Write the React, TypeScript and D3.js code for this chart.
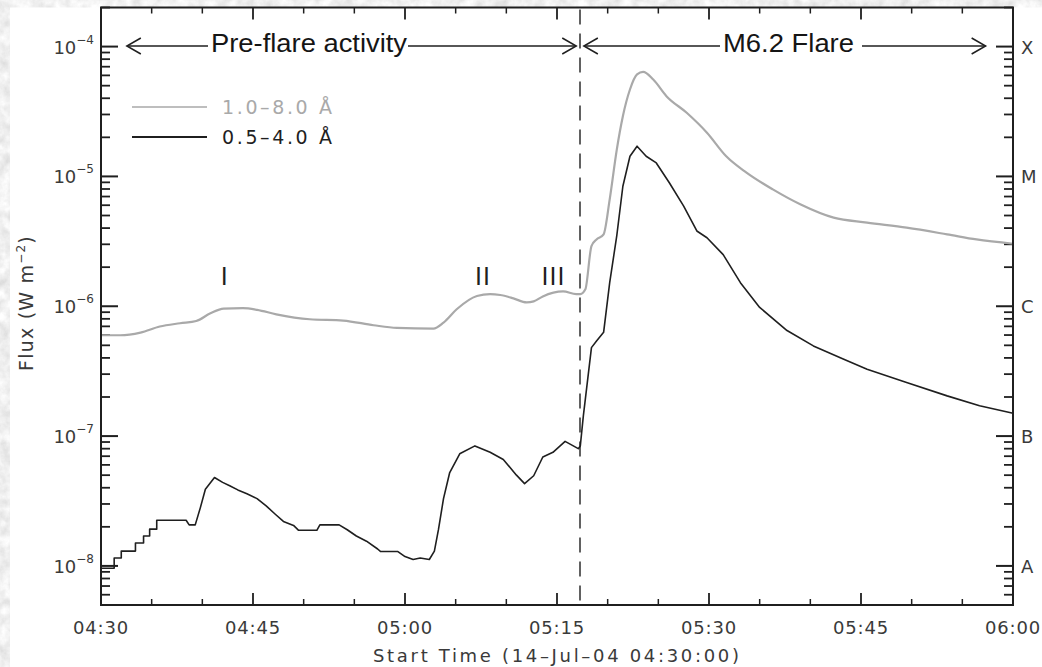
import React from "react";
import * as d3 from "d3";

// minutes after 04:30:00 UT
const softTimes = [0, 1.9, 3.9, 5.8, 7.8, 9.4, 10.8, 12.1, 14.0, 15.4, 17.3, 20.6, 23.9, 26.9, 29.2, 32.8, 33.8, 35.1, 37.1, 38.4, 39.4, 40.7, 42.0, 42.7, 43.6, 45.6, 46.9, 47.3, 47.8, 48.4, 48.9, 49.6, 50.2, 50.9, 51.5, 52.2, 52.9, 53.5, 54.5, 55.8, 57.8, 59.8, 61.7, 63.7, 66.3, 69.0, 72.3, 75.6, 79.5, 83.5, 86.4, 90];
const softFlux = [5.98e-7, 5.98e-7, 6.27e-7, 6.98e-7, 7.4e-7, 7.7e-7, 8.83e-7, 9.6e-7, 9.66e-7, 9.38e-7, 8.67e-7, 7.94e-7, 7.76e-7, 7.14e-7, 6.81e-7, 6.73e-7, 7.48e-7, 9.48e-7, 1.2e-6, 1.24e-6, 1.22e-6, 1.15e-6, 1.07e-6, 1.09e-6, 1.19e-6, 1.3e-6, 1.24e-6, 1.24e-6, 1.35e-6, 2.91e-6, 3.27e-6, 3.58e-6, 6.65e-6, 1.61e-5, 2.91e-5, 4.67e-5, 6.1e-5, 6.38e-5, 5.57e-5, 4.15e-5, 3.09e-5, 2.17e-5, 1.43e-5, 1.07e-5, 7.94e-6, 6.1e-6, 4.81e-6, 4.41e-6, 4.03e-6, 3.58e-6, 3.27e-6, 3.03e-6];

const hardTimes = [0, 1.3, 1.3, 2.0, 2.0, 3.4, 3.4, 4.2, 4.2, 4.8, 4.8, 5.5, 5.5, 8.4, 8.7, 9.3, 9.8, 10.3, 11.2, 12.0, 12.7, 13.5, 14.4, 15.4, 16.3, 17.2, 18.0, 19.0, 19.5, 21.3, 21.6, 23.5, 24.3, 25.2, 26.2, 27.3, 27.6, 29.3, 30.0, 30.8, 31.5, 32.4, 32.9, 33.3, 33.8, 34.4, 35.4, 36.9, 38.4, 39.7, 41.0, 41.8, 42.7, 43.6, 44.6, 45.8, 47.1, 47.3, 47.6, 48.4, 48.9, 49.6, 50.2, 50.9, 51.5, 52.2, 52.9, 53.8, 54.8, 56.1, 57.5, 58.8, 59.8, 61.4, 63.1, 65.0, 67.7, 70.3, 73.3, 75.6, 79.5, 83.5, 86.7, 90];
const hardFlux = [9.6e-9, 9.6e-9, 1.15e-8, 1.15e-8, 1.3e-8, 1.3e-8, 1.5e-8, 1.5e-8, 1.7e-8, 1.7e-8, 1.92e-8, 1.92e-8, 2.25e-8, 2.25e-8, 2.07e-8, 2.07e-8, 2.8e-8, 3.9e-8, 4.8e-8, 4.4e-8, 4.15e-8, 3.85e-8, 3.6e-8, 3.3e-8, 2.9e-8, 2.5e-8, 2.2e-8, 2.05e-8, 1.88e-8, 1.88e-8, 2.07e-8, 2.07e-8, 1.9e-8, 1.7e-8, 1.55e-8, 1.35e-8, 1.29e-8, 1.29e-8, 1.18e-8, 1.12e-8, 1.15e-8, 1.12e-8, 1.3e-8, 1.9e-8, 3.3e-8, 5.2e-8, 7.3e-8, 8.4e-8, 7.5e-8, 6.6e-8, 5.0e-8, 4.3e-8, 4.95e-8, 6.9e-8, 7.5e-8, 9.1e-8, 8.0e-8, 8.4e-8, 1.43e-7, 4.8e-7, 5.4e-7, 6.3e-7, 1.52e-6, 3.5e-6, 8.4e-6, 1.43e-5, 1.71e-5, 1.43e-5, 1.27e-5, 8.9e-6, 5.9e-6, 3.8e-6, 3.37e-6, 2.5e-6, 1.52e-6, 9.8e-7, 6.5e-7, 4.95e-7, 3.9e-7, 3.27e-7, 2.59e-7, 2.04e-7, 1.71e-7, 1.5e-7];

const xTickMinutes = [0, 15, 30, 45, 60, 75, 90];
const xTickLabels = ["04:30", "04:45", "05:00", "05:15", "05:30", "05:45", "06:00"];
const yTickExponents = [-4, -5, -6, -7, -8];
const goesClasses = ["X", "M", "C", "B", "A"];
const legendLabels = ["1.0–8.0 Å", "0.5–4.0 Å"];
const phaseNames = ["Pre-flare activity", "M6.2 Flare"];
const flareOnset = 47.27;
const preflareSpan = [2.55, 46.9];
const flareSpan = [47.65, 87.3];
const episodeLabels = ["I", "II", "III"];
const episodeTimes = [12.2, 37.7, 44.65];
const xTitle = "Start Time (14–Jul–04 04:30:00)";

const W = 1042, H = 667;
const L = 101, R = 1013, T = 7.5, B = 605;
const GRAY = "#a9a9a9", INK = "#1f1f1f", TXT = "#3a3a3a";

export default function App() {
  const x = d3.scaleLinear().domain([0, 90]).range([L, R]);
  const y = d3.scaleLog().domain([5e-9, 2e-4]).range([B, T]);

  const soft = softTimes.map((t, i) => [t, softFlux[i]] as [number, number]);
  const hard = hardTimes.map((t, i) => [t, hardFlux[i]] as [number, number]);
  const softLine = d3.line<[number, number]>().x(d => x(d[0])).y(d => y(d[1])).curve(d3.curveMonotoneX);
  const hardLine = d3.line<[number, number]>().x(d => x(d[0])).y(d => y(d[1]));

  // y ticks (log)
  const yMajor: number[] = [];
  const yMinor: number[] = [];
  for (let e = -9; e <= -4; e++) {
    for (let m = 1; m <= 9; m++) {
      const v = m * Math.pow(10, e);
      if (v < 5e-9 * 0.999 || v > 2e-4 * 1.001) continue;
      if (m === 1) yMajor.push(v); else yMinor.push(v);
    }
  }
  const xMinor = d3.range(0, 91, 5).filter(m => m % 15 !== 0);

  const fontTick = "'DejaVu Sans', sans-serif";
  const fontAnno = "'Liberation Sans', Arial, sans-serif";

  const chevL = (px: number, py: number) => `M${px + 14},${py - 8}L${px},${py}L${px + 14},${py + 8}`;
  const chevR = (px: number, py: number) => `M${px - 14},${py - 8}L${px},${py}L${px - 14},${py + 8}`;
  const ay = 46;

  return (
    <div style={{ position: "absolute", left: 0, top: 0 }}>
      <svg width={W} height={H} style={{ display: "block" }}>
        <defs>
          <filter id="paper" x="0" y="0" width="100%" height="100%">
            <feTurbulence type="fractalNoise" baseFrequency="0.09" numOctaves={4} seed={7} />
            <feColorMatrix type="saturate" values="0" />
            <feComponentTransfer>
              <feFuncR type="linear" slope={0.55} intercept={0.6} />
              <feFuncG type="linear" slope={0.55} intercept={0.6} />
              <feFuncB type="linear" slope={0.55} intercept={0.6} />
              <feFuncA type="linear" slope={0} intercept={1} />
            </feComponentTransfer>
          </filter>
        </defs>
        <rect x={0} y={0} width={W} height={H} fill="#dcdcdc" filter="url(#paper)" />
        <rect x={10} y={T} width={W - 10} height={H - T} fill="#ffffff" />

        {/* ticks y (left & right) */}
        {yMajor.map((v, i) => (
          <g key={"yM" + i} stroke={INK} strokeWidth={2}>
            <line x1={L} x2={L + 17} y1={y(v)} y2={y(v)} />
            <line x1={R} x2={R - 17} y1={y(v)} y2={y(v)} />
          </g>
        ))}
        {yMinor.map((v, i) => (
          <g key={"ym" + i} stroke={INK} strokeWidth={1.8}>
            <line x1={L} x2={L + 9} y1={y(v)} y2={y(v)} />
            <line x1={R} x2={R - 9} y1={y(v)} y2={y(v)} />
          </g>
        ))}
        {/* ticks x (top & bottom) */}
        {xTickMinutes.map((m, i) => (
          <g key={"xM" + i} stroke={INK} strokeWidth={1.8}>
            <line x1={x(m)} x2={x(m)} y1={B} y2={B - 12} />
            <line x1={x(m)} x2={x(m)} y1={T} y2={T + 12} />
          </g>
        ))}
        {xMinor.map((m, i) => (
          <g key={"xm" + i} stroke={INK} strokeWidth={1.5}>
            <line x1={x(m)} x2={x(m)} y1={B} y2={B - 6} />
            <line x1={x(m)} x2={x(m)} y1={T} y2={T + 6} />
          </g>
        ))}

        {/* curves */}
        <path d={softLine(soft) || ""} fill="none" stroke={GRAY} strokeWidth={2.2} strokeLinejoin="round" />
        <path d={hardLine(hard) || ""} fill="none" stroke={INK} strokeWidth={1.6} strokeLinejoin="round" />

        {/* flare onset */}
        <line x1={x(flareOnset)} x2={x(flareOnset)} y1={T + 2} y2={B} stroke={INK} strokeWidth={1.4} strokeDasharray="15 9" />

        {/* frame */}
        <rect x={L} y={T} width={R - L} height={B - T} fill="none" stroke={INK} strokeWidth={2} />

        {/* y labels */}
        {yTickExponents.map((e, i) => (
          <text key={"yl" + i} x={94} y={y(Math.pow(10, e)) + 7} textAnchor="end" fontFamily={fontTick} fontSize={18} fill={TXT}>
            10<tspan dy={-10} fontSize={12}>{"−" + Math.abs(e)}</tspan>
          </text>
        ))}
        {goesClasses.map((c, i) => (
          <text key={"gc" + i} x={1021} y={y(Math.pow(10, yTickExponents[i])) + 7} fontFamily={fontTick} fontSize={18} fill={TXT}>
            {c}
          </text>
        ))}
        {/* x labels */}
        {xTickLabels.map((s, i) => (
          <text key={"xl" + i} x={x(xTickMinutes[i])} y={634} textAnchor="middle" fontFamily={fontTick} fontSize={18} letterSpacing={0.8} fill={TXT}>
            {s}
          </text>
        ))}
        <text x={(L + R) / 2 - 1} y={662} textAnchor="middle" fontFamily={fontTick} fontSize={18} fill={TXT} textLength={366} lengthAdjust="spacing">
          {xTitle}
        </text>
        <text transform={`translate(33,303) rotate(-90)`} textAnchor="middle" fontFamily={fontTick} fontSize={19} letterSpacing={1.2} fill={TXT}>
          Flux (W m<tspan dy={-8} fontSize={12}>−2</tspan><tspan dy={8}>)</tspan>
        </text>

        {/* legend */}
        <line x1={132} x2={207} y1={107} y2={107} stroke={GRAY} strokeWidth={1.5} />
        <text x={222} y={113.5} fontFamily={fontTick} fontSize={19} fill={GRAY} textLength={110} lengthAdjust="spacing">{legendLabels[0]}</text>
        <line x1={132} x2={207} y1={137} y2={137} stroke={INK} strokeWidth={2} />
        <text x={222} y={143.5} fontFamily={fontTick} fontSize={19} fill={INK} textLength={110} lengthAdjust="spacing">{legendLabels[1]}</text>

        {/* phase annotations */}
        <g stroke={INK} strokeWidth={1.5} fill="none">
          <line x1={x(preflareSpan[0])} x2={208} y1={ay} y2={ay} />
          <path d={chevL(x(preflareSpan[0]), ay)} />
          <line x1={408} x2={x(preflareSpan[1])} y1={ay} y2={ay} />
          <path d={chevR(x(preflareSpan[1]), ay)} />
          <line x1={x(flareSpan[0])} x2={720} y1={ay} y2={ay} />
          <path d={chevL(x(flareSpan[0]), ay)} />
          <line x1={862} x2={x(flareSpan[1])} y1={ay} y2={ay} />
          <path d={chevR(x(flareSpan[1]), ay)} />
        </g>
        <text x={211} y={52} fontFamily={fontAnno} fontSize={26.5} fill="#151515" textLength={196} lengthAdjust="spacingAndGlyphs">{phaseNames[0]}</text>
        <text x={723} y={52} fontFamily={fontAnno} fontSize={26.5} fill="#151515" textLength={131} lengthAdjust="spacingAndGlyphs">{phaseNames[1]}</text>

        {/* episodes */}
        {episodeLabels.map((s, i) => (
          <text key={"ep" + i} x={x(episodeTimes[i])} y={285} textAnchor="middle" fontFamily={fontAnno} fontSize={25} fill={INK} letterSpacing={1}>
            {s}
          </text>
        ))}
      </svg>
    </div>
  );
}
